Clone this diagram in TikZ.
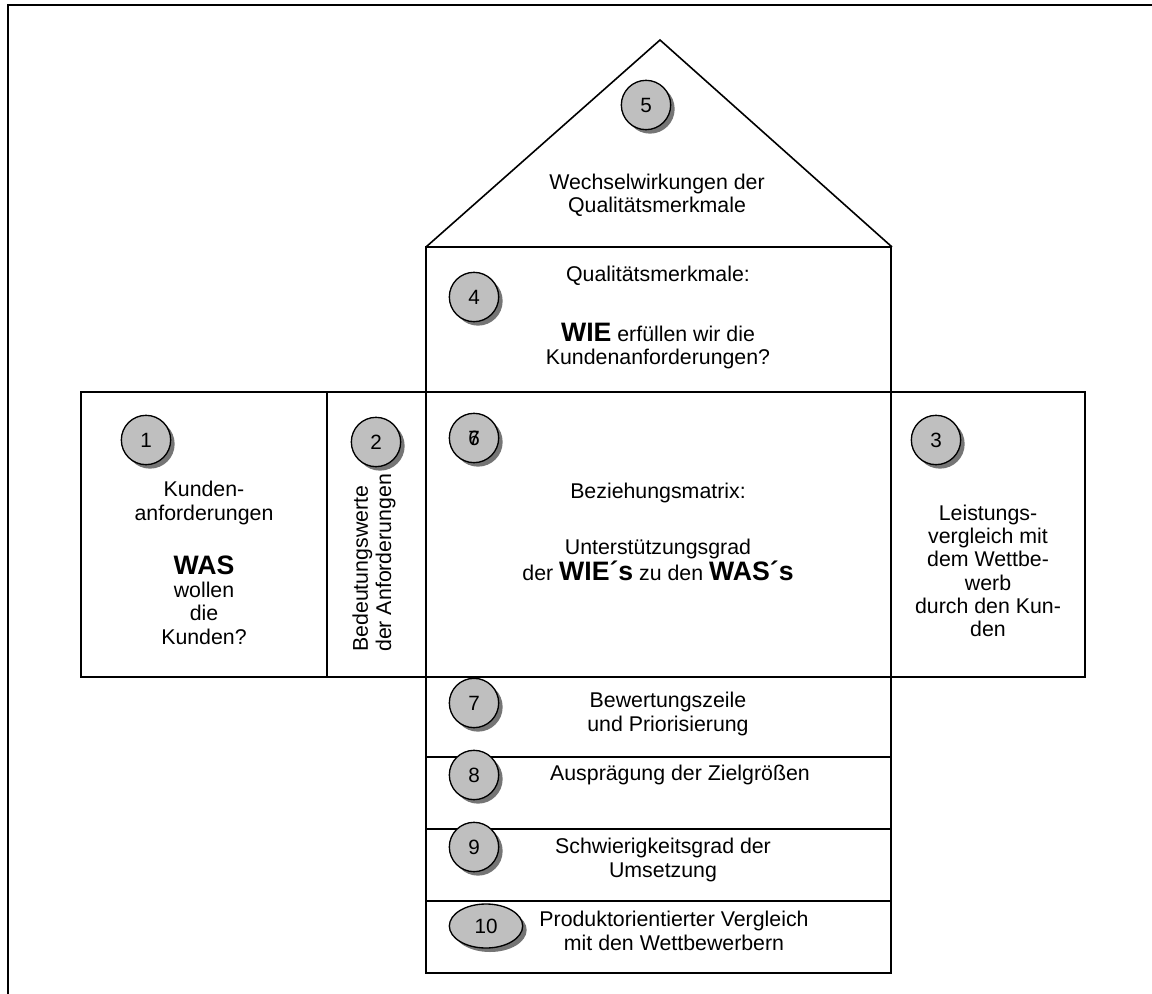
\documentclass[tikz,border=0pt]{standalone}
\usepackage{fontspec}
\setmainfont{Liberation Sans}
\usetikzlibrary{shadows,shapes.geometric}

\newcommand{\grossfont}{\fontsize{20}{22}\selectfont\bfseries}

\begin{document}
\begin{tikzpicture}[x=0.75pt,y=-0.75pt,
    linie/.style={line width=1.2pt},
    nummer/.style={circle, draw, line width=1pt, fill=black!25, minimum size=37pt, inner sep=0pt,
      font=\fontsize{15.5}{17}\selectfont,
      drop shadow={shadow xshift=3pt, shadow yshift=-3pt, fill=black!60, opacity=0.9}},
    txt/.style={align=center, inner sep=0pt, font=\fontsize{16}{17.5}\selectfont}]

    \useasboundingbox (0,0) rectangle (1152,994);

    % 画外框
    \draw[line width=1.5pt] (8,994) -- (8,5) -- (1152,5);

    % 画房子
    \draw[linie] (426,247) -- (660,40) -- (892,247);
    \draw[linie] (426,247) rectangle (891,392);
    \draw[linie] (81,392) rectangle (1085,677);
    \draw[linie] (327,392) -- (327,677);
    \draw[linie] (426,392) -- (426,677);
    \draw[linie] (891,392) -- (891,677);
    \draw[linie] (426,677) rectangle (891,973);
    \draw[linie] (426,757) -- (891,757);
    \draw[linie] (426,829) -- (891,829);
    \draw[linie] (426,901) -- (891,901);

    % 画圆形
    \node[nummer] (n5) at (646,105) {5};
    \node[nummer] (n4) at (474,297) {4};
    \node[nummer] (n1) at (146,440) {1};
    \node[nummer] (n2) at (376,442) {2};
    \node[nummer] (n6) at (474,438) {6};
    \node[txt, font=\fontsize{15.5}{17}\selectfont] (n6b) at (n6) {7};
    \node[nummer] (n3) at (936,440) {3};
    \node[nummer] (n7) at (474,703) {7};
    \node[nummer] (n8) at (474,775) {8};
    \node[nummer] (n9) at (474,847) {9};
    \node[nummer, ellipse, minimum width=55pt, minimum height=33pt] (n10) at (486,926) {10};

    % 插入文字
    \node[txt] (dach) at (657,195) {Wechselwirkungen der\\Qualitätsmerkmale};
    \node[txt] (qm) at (658,276) {Qualitätsmerkmale:};
    \node[txt] (wie) at (658,346) {{\grossfont WIE} erfüllen wir die\\Kundenanforderungen?};
    \node[txt] (kunden) at (204,503) {Kunden-\\anforderungen};
    \node[txt] (was) at (204,600) {{\grossfont WAS}\\wollen\\die\\Kunden?};
    \node[txt, rotate=90, align=left, anchor=west] (bedeutung) at (374,652) {Bedeutungswerte\\der Anforderungen};
    \node[txt] (bez) at (658,493) {Beziehungsmatrix:};
    \node[txt] (unter) at (658,560) {Unterstützungsgrad\\der {\grossfont WIE´s} zu den {\grossfont WAS´s}};
    \node[txt] (leist) at (988,571) {Leistungs-\\vergleich mit\\dem Wettbe-\\werb\\durch den Kun-\\den};
    \node[txt] (bew) at (668,714) {Bewertungszeile\\und Priorisierung};
    \node[txt] (aus) at (680,775) {Ausprägung der Zielgrößen};
    \node[txt] (schw) at (663,860) {Schwierigkeitsgrad der\\Umsetzung};
    \node[txt] (prod) at (674,931) {Produktorientierter Vergleich\\mit den Wettbewerbern};

\end{tikzpicture}
\end{document}
